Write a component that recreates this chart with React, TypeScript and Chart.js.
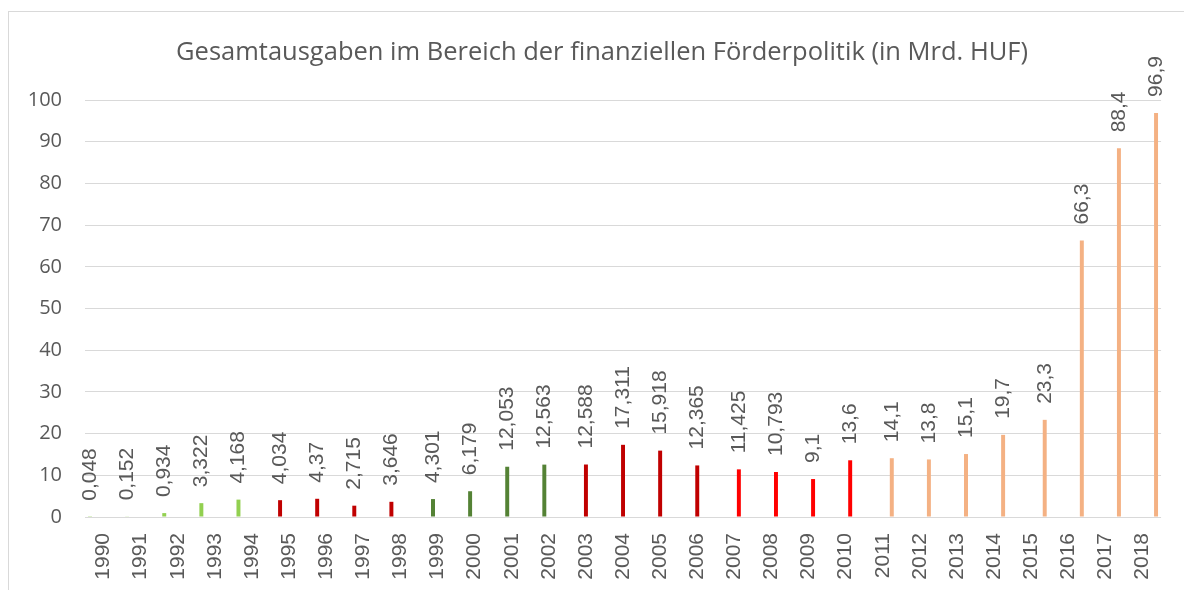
import React, { useEffect, useRef } from "react";
import { Chart, registerables } from "chart.js";

Chart.register(...registerables);

const TITLE = "Gesamtausgaben im Bereich der finanziellen Förderpolitik (in Mrd. HUF)";

const years = [
  "1990", "1991", "1992", "1993", "1994", "1995", "1996", "1997", "1998", "1999",
  "2000", "2001", "2002", "2003", "2004", "2005", "2006", "2007", "2008", "2009",
  "2010", "2011", "2012", "2013", "2014", "2015", "2016", "2017", "2018",
];

const values = [
  0.048, 0.152, 0.934, 3.322, 4.168, 4.034, 4.37, 2.715, 3.646, 4.301,
  6.179, 12.053, 12.563, 12.588, 17.311, 15.918, 12.365, 11.425, 10.793, 9.1,
  13.6, 14.1, 13.8, 15.1, 19.7, 23.3, 66.3, 88.4, 96.9,
];

const seriesFrom = [1990, 1995, 1999, 2003, 2007, 2011, 2015];
const seriesTo = [1994, 1998, 2002, 2006, 2010, 2014, 2018];
const seriesColors = ["#92D050", "#C00000", "#548235", "#C00000", "#FF0000", "#F4B183", "#F4B183"];

const yTicks = [0, 10, 20, 30, 40, 50, 60, 70, 80, 90, 100];

const fmt = (v: number) => String(v).replace(".", ",");

export default function App() {
  const ref = useRef<HTMLCanvasElement | null>(null);

  useEffect(() => {
    if (!ref.current) return;
    const datasets = seriesFrom.map((from, s) => ({
      label: `${from}-${seriesTo[s]}`,
      data: years.map((y, i) => {
        const yr = Number(y);
        return yr >= from && yr <= seriesTo[s] ? values[i] : null;
      }),
      backgroundColor: seriesColors[s],
      borderWidth: 0,
      categoryPercentage: 0.85,
      barPercentage: 0.88,
    }));

    const overlay = {
      id: "overlay",
      afterDatasetsDraw(chart: any) {
        const ctx = chart.ctx;
        ctx.save();
        ctx.fillStyle = "#595959";
        ctx.font = '21px "Liberation Sans"';
        chart.data.datasets.forEach((ds: any, di: number) => {
          const meta = chart.getDatasetMeta(di);
          meta.data.forEach((el: any, j: number) => {
            const v = ds.data[j];
            if (v == null) return;
            ctx.save();
            ctx.translate(el.x, el.y - 16);
            ctx.rotate(-Math.PI / 2);
            ctx.textAlign = "left";
            ctx.textBaseline = "middle";
            ctx.fillText(fmt(v), 0, 0);
            ctx.restore();
          });
        });
        ctx.font = '25.5px "Open Sans"';
        ctx.textAlign = "center";
        ctx.textBaseline = "alphabetic";
        ctx.fillText(TITLE, 602, 60);
        ctx.restore();
      },
    };

    const chart = new Chart(ref.current, {
      type: "bar",
      data: { labels: years, datasets },
      options: {
        animation: false,
        responsive: false,
        devicePixelRatio: 1,
        layout: { padding: { top: 100, right: 16, left: 0, bottom: 0 } },
        plugins: { legend: { display: false }, tooltip: { enabled: false }, title: { display: false } },
        scales: {
          x: {
            grid: { display: false, drawTicks: false },
            border: { display: false },
            ticks: {
              autoSkip: false,
              maxRotation: 90,
              minRotation: 90,
              padding: 16,
              color: "#595959",
              font: { family: "Liberation Sans", size: 21 },
            },
            afterFit: (scale: any) => {
              scale.height = 73;
            },
          },
          y: {
            min: 0,
            max: 100,
            afterBuildTicks: (scale: any) => {
              scale.ticks = yTicks.map((v) => ({ value: v }));
            },
            grid: { color: "#D9D9D9", lineWidth: 1, drawTicks: false },
            border: { display: false },
            ticks: {
              padding: 23,
              color: "#595959",
              font: { family: "Open Sans", size: 20 },
            },
            afterFit: (scale: any) => {
              scale.width = 85;
            },
          },
        },
      },
      plugins: [overlay],
    });
    return () => chart.destroy();
  }, []);

  return (
    <div style={{ position: "fixed", left: 0, top: 0, width: 1184, height: 590, background: "#fff", overflow: "hidden" }}>
      <div style={{ position: "absolute", left: 8, top: 11, width: 1200, height: 600, border: "1px solid #D9D9D9" }} />
      <canvas ref={ref} width={1184} height={590} style={{ position: "absolute", left: 0, top: 0 }} />
    </div>
  );
}
